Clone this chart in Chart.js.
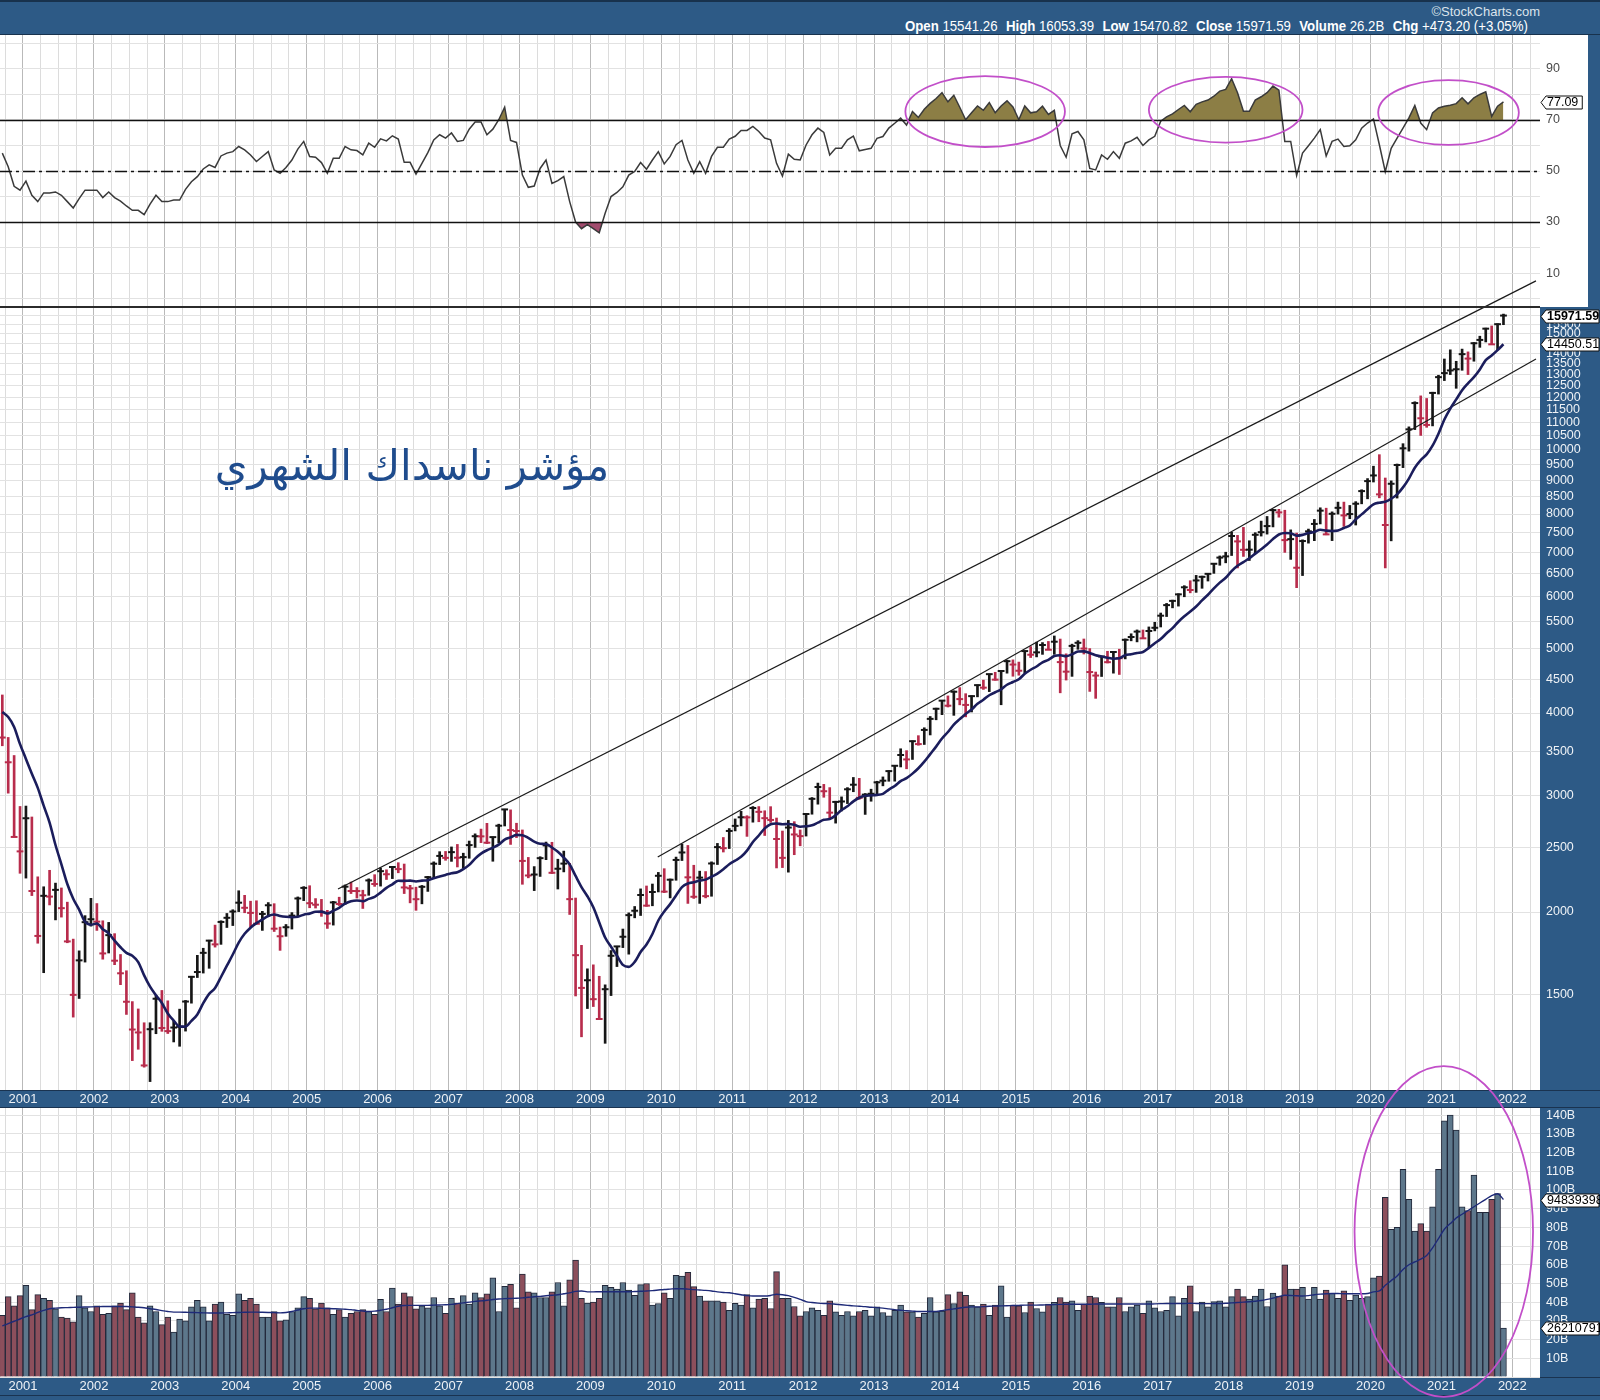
<!DOCTYPE html>
<html lang="ar">
<head>
<meta charset="utf-8">
<title>مؤشر ناسداك الشهري</title>
<script src="https://cdn.jsdelivr.net/npm/chart.js@4.4.1/dist/chart.umd.min.js"></script>
<style>
  html, body { margin: 0; padding: 0; }
  body { position: relative; width: 1600px; height: 1400px; overflow: hidden; background: #2d5a86; font-family: "Liberation Sans", Arial, sans-serif; }
  .box { position: absolute; }
  canvas { position: absolute; left: 0; }
  #quote { position: absolute; right: 72px; top: 18px; color: #fff; font-size: 14px; font-family: "Liberation Sans Narrow", "Liberation Sans", sans-serif; white-space: nowrap; transform: scaleX(0.944); transform-origin: right center; }
  #quote b { margin-left: 5px; }
  #brand { position: absolute; right: 60px; top: 4px; color: #dce4ec; font-size: 13px; font-family: "Liberation Sans Narrow", "Liberation Sans", sans-serif; }
  #title { position: absolute; left: 196px; width: 432px; top: 441px; text-align: center; direction: rtl; font-size: 42px; font-family: "DejaVu Sans", sans-serif; color: #1f4c8d; z-index: 6; white-space: nowrap; }
</style>
</head>
<body>
<div class="box" style="left:0;top:0;width:1600px;height:2px;background:#18324d"></div>
<div class="box" style="left:0;top:34px;width:1600px;height:1px;background:#18324d"></div>
<div id="brand">©StockCharts.com</div>
<div id="quote"><b>Open</b> 15541.26 <b>High</b> 16053.39 <b>Low</b> 15470.82 <b>Close</b> 15971.59 <b>Volume</b> 26.2B <b>Chg</b> +473.20 (+3.05%)</div>

<div class="box" style="left:0;top:35px;width:1588px;height:272px;background:#fff"></div>
<div class="box" style="left:0;top:307px;width:1540px;height:783px;background:#fff"></div>
<div class="box" style="left:0;top:1108px;width:1540px;height:269px;background:#fff"></div>
<div class="box" style="left:0;top:306px;width:1540px;height:2px;background:#2b2b2b;z-index:4"></div>
<div class="box" style="left:0;top:1090px;width:1600px;height:1px;background:#1a3350;z-index:1"></div>
<div class="box" style="left:0;top:1107px;width:1600px;height:1px;background:#1a3350;z-index:1"></div>
<div class="box" style="left:0;top:1377px;width:1600px;height:1px;background:#1a3350;z-index:1"></div>
<div class="box" style="left:0;top:1395px;width:1600px;height:1px;background:#1a3350;z-index:1"></div>

<canvas id="rsi" width="1600" height="272" style="top:35px;z-index:2"></canvas>
<canvas id="price" width="1600" height="858" style="top:250px;z-index:3"></canvas>
<canvas id="volume" width="1600" height="340" style="top:1060px;z-index:5"></canvas>
<div id="title">مؤشر ناسداك الشهري</div>

<script>
// Monthly bars from Sep 2000 to Nov 2021 (month index 0 = Jan 2001)
const firstYear = 2000, firstMonth = 9;
const prevClose = 4206.35; // Aug 2000 close, only used to colour the first bar

const highs = [
  4260, 3674, 3450, 2889,
  2893, 2785, 2261, 2184, 2313, 2212, 2175, 2070, 1820, 1747, 1975, 2098,
  2060, 1940, 1929, 1855, 1725, 1630, 1464, 1427, 1360, 1360, 1496, 1522,
  1468, 1368, 1426, 1470, 1599, 1720, 1763, 1813, 1911, 1940, 1990, 2016,
  2154, 2120, 2077, 2080, 2005, 2067, 2059, 1898, 1915, 1996, 2108, 2185,
  2192, 2096, 2090, 2012, 2076, 2106, 2198, 2220, 2178, 2158, 2245, 2278,
  2332, 2317, 2345, 2375, 2364, 2195, 2181, 2194, 2265, 2382, 2468, 2470,
  2509, 2531, 2455, 2561, 2626, 2670, 2724, 2597, 2716, 2861, 2855, 2725,
  2662, 2419, 2343, 2425, 2552, 2550, 2404, 2473, 2370, 2100, 1781, 1641,
  1664, 1599, 1552, 1749, 1775, 1885, 1994, 2039, 2168, 2190, 2205, 2296,
  2326, 2244, 2422, 2535, 2522, 2354, 2306, 2303, 2382, 2540, 2593, 2675,
  2766, 2840, 2797, 2888, 2888, 2846, 2887, 2775, 2652, 2752, 2740, 2662,
  2818, 2980, 3134, 3120, 3085, 2942, 2987, 3085, 3196, 3186, 3022, 3068,
  3154, 3202, 3272, 3334, 3532, 3509, 3630, 3697, 3800, 3952, 4069, 4177,
  4246, 4321, 4371, 4279, 4247, 4410, 4486, 4580, 4610, 4641, 4810, 4814,
  4777, 4964, 5042, 5120, 5113, 5133, 5232, 5176, 4916, 5085, 5147, 5177,
  5007, 4614, 4870, 4960, 4956, 4996, 5178, 5272, 5343, 5342, 5399, 5487,
  5667, 5860, 5928, 6060, 6233, 6342, 6461, 6445, 6496, 6737, 6914, 7004,
  7506, 7427, 7637, 7289, 7497, 7806, 7933, 8133, 8133, 8107, 7571, 7486,
  7313, 7592, 7851, 8176, 8165, 8061, 8340, 8340, 8243, 8353, 8706, 9052,
  9451, 9838, 9070, 8980, 9523, 10222, 10839, 11829, 12074, 11965, 12229, 12973,
  13729, 14175, 13620, 14211, 14073, 14536, 14864, 15288, 15404, 15520, 16053.39
];

const lows = [
  3569, 3026, 2597, 2289,
  2251, 2118, 1794, 1619, 2050, 1946, 1965, 1797, 1387, 1480, 1680, 1904,
  1876, 1697, 1734, 1665, 1553, 1400, 1192, 1240, 1165, 1108, 1309, 1320,
  1310, 1272, 1253, 1321, 1456, 1592, 1617, 1644, 1770, 1787, 1895, 1908,
  2003, 1995, 1897, 1918, 1876, 1969, 1869, 1750, 1838, 1885, 1973, 2081,
  2030, 2028, 1970, 1889, 1911, 2046, 2054, 2133, 2100, 2025, 2120, 2187,
  2189, 2240, 2247, 2293, 2133, 2065, 2012, 2058, 2149, 2249, 2359, 2395,
  2386, 2340, 2332, 2412, 2505, 2547, 2538, 2387, 2544, 2699, 2531, 2592,
  2203, 2253, 2155, 2264, 2400, 2287, 2167, 2300, 1983, 1493, 1295, 1429,
  1439, 1377, 1266, 1495, 1654, 1767, 1727, 1960, 1976, 2040, 2044, 2145,
  2140, 2101, 2234, 2393, 2061, 2097, 2061, 2101, 2113, 2360, 2465, 2495,
  2653, 2700, 2603, 2735, 2739, 2611, 2733, 2332, 2335, 2298, 2442, 2519,
  2606, 2812, 2912, 2983, 2778, 2726, 2844, 2918, 3041, 2962, 2810, 2942,
  3020, 3104, 3154, 3155, 3315, 3294, 3403, 3576, 3585, 3706, 3907, 3977,
  4085, 3968, 4116, 3947, 4015, 4232, 4343, 4310, 4484, 4117, 4596, 4547,
  4563, 4598, 4853, 4864, 4907, 4987, 4908, 4292, 4487, 4545, 4994, 4913,
  4313, 4210, 4543, 4762, 4596, 4575, 4830, 5144, 5125, 5184, 5034, 5325,
  5398, 5598, 5770, 5805, 5997, 6080, 6090, 6177, 6335, 6507, 6693, 6750,
  6924, 6631, 6902, 6805, 6993, 7409, 7460, 7649, 7913, 7000, 6831, 6190,
  6457, 7229, 7291, 7729, 7443, 7293, 7999, 7663, 7871, 7700, 8290, 8436,
  8944, 8465, 6631, 7287, 8458, 9404, 9960, 10736, 10520, 10822, 10875, 12150,
  12735, 13003, 12397, 13200, 13002, 13623, 14298, 14568, 14436, 14182, 15470.82
];

const closes = [
  3672.82, 3369.63, 2597.93, 2470.52,
  2772.73, 2151.83, 1840.26, 2116.24, 2110.49, 2160.54, 2027.13, 1805.43, 1498.80, 1690.20, 1930.58, 1950.40,
  1934.03, 1731.49, 1845.35, 1688.23, 1615.73, 1463.21, 1328.26, 1314.85, 1172.06, 1329.75, 1478.78, 1335.51,
  1320.91, 1337.52, 1341.17, 1464.31, 1595.91, 1622.80, 1735.02, 1810.45, 1786.94, 1932.21, 1960.26, 2003.37,
  2066.15, 2029.82, 1994.22, 1920.15, 1986.74, 2047.79, 1887.36, 1838.10, 1896.84, 1974.99, 2096.81, 2175.44,
  2062.41, 2051.72, 1999.23, 1921.65, 2068.22, 2056.96, 2184.83, 2152.09, 2151.69, 2120.30, 2232.82, 2205.32,
  2305.82, 2281.39, 2339.79, 2322.57, 2178.88, 2172.09, 2091.47, 2183.75, 2258.43, 2366.71, 2431.77, 2415.29,
  2463.93, 2416.15, 2421.64, 2525.09, 2604.52, 2603.23, 2546.27, 2596.36, 2701.50, 2859.12, 2660.96, 2652.28,
  2389.86, 2271.48, 2279.10, 2412.80, 2522.66, 2292.98, 2325.55, 2367.52, 2091.88, 1720.95, 1535.57, 1577.03,
  1476.42, 1377.84, 1528.59, 1717.30, 1774.33, 1835.04, 1978.50, 2009.06, 2122.42, 2045.11, 2144.60, 2269.15,
  2147.35, 2238.26, 2397.96, 2461.19, 2257.04, 2109.24, 2254.70, 2114.03, 2368.62, 2507.41, 2498.23, 2652.87,
  2700.08, 2782.27, 2781.07, 2873.54, 2835.30, 2773.52, 2756.38, 2579.46, 2415.40, 2684.41, 2620.34, 2605.15,
  2813.84, 2966.89, 3091.57, 3046.36, 2827.34, 2935.05, 2939.52, 3066.96, 3116.23, 2977.23, 3010.24, 3019.51,
  3142.13, 3160.19, 3267.52, 3328.79, 3455.91, 3403.25, 3626.37, 3589.87, 3771.48, 3919.71, 4059.89, 4176.59,
  4103.88, 4308.12, 4198.99, 4114.56, 4242.62, 4408.18, 4369.77, 4580.27, 4493.39, 4630.74, 4791.63, 4736.05,
  4635.24, 4963.53, 4900.88, 4941.42, 5070.03, 4986.87, 5128.28, 4776.51, 4620.16, 5053.75, 5108.67, 5007.41,
  4613.95, 4557.95, 4869.85, 4775.36, 4948.05, 4842.67, 5162.13, 5213.22, 5312.00, 5189.14, 5323.68, 5383.12,
  5614.79, 5825.44, 5911.74, 6047.61, 6198.52, 6140.42, 6348.12, 6428.66, 6495.96, 6727.67, 6873.97, 6903.39,
  7411.48, 7273.01, 7063.45, 7066.27, 7442.12, 7510.30, 7671.79, 8109.54, 8046.35, 7305.90, 7330.54, 6635.28,
  7281.74, 7532.53, 7729.32, 8095.39, 7453.15, 8006.24, 8175.42, 7962.88, 7999.34, 8292.36, 8665.47, 8972.60,
  9150.94, 8567.37, 7700.10, 8889.55, 9489.87, 10058.77, 10745.27, 11775.46, 11167.51, 10911.59, 12198.74, 12888.28,
  13070.69, 13192.35, 13246.87, 13962.68, 13748.74, 14503.95, 14672.68, 15259.24, 14448.58, 15498.39, 15971.59
];

// 10-month moving average
const ma10 = [
  4015, 3945, 3811, 3589,
  3409, 3238, 3082, 2897, 2731, 2526, 2362, 2205, 2095, 2017, 1933, 1913,
  1922, 1884, 1857, 1810, 1769, 1735, 1718, 1680, 1604, 1542, 1497, 1457,
  1405, 1370, 1342, 1342, 1369, 1400, 1456, 1504, 1535, 1595, 1659, 1725,
  1798, 1854, 1894, 1924, 1949, 1973, 1983, 1973, 1967, 1964, 1967, 1982,
  1989, 2002, 2003, 1990, 2009, 2030, 2059, 2077, 2082, 2077, 2094, 2109,
  2140, 2176, 2203, 2230, 2229, 2231, 2225, 2231, 2234, 2250, 2263, 2276,
  2289, 2298, 2322, 2357, 2409, 2451, 2480, 2502, 2529, 2574, 2594, 2617,
  2614, 2589, 2556, 2537, 2535, 2504, 2467, 2418, 2361, 2268, 2182, 2113,
  2033, 1929, 1830, 1772, 1717, 1664, 1652, 1681, 1740, 1786, 1853, 1942,
  2004, 2056, 2119, 2181, 2209, 2219, 2232, 2239, 2262, 2286, 2321, 2362,
  2392, 2424, 2477, 2553, 2611, 2677, 2716, 2723, 2715, 2718, 2710, 2692,
  2696, 2705, 2731, 2758, 2765, 2801, 2853, 2891, 2941, 2978, 2998, 3003,
  3008, 3019, 3064, 3103, 3155, 3188, 3239, 3300, 3377, 3467, 3558, 3660,
  3744, 3842, 3916, 3987, 4049, 4131, 4190, 4256, 4300, 4345, 4414, 4457,
  4500, 4585, 4651, 4704, 4774, 4815, 4879, 4893, 4876, 4908, 4955, 4959,
  4931, 4892, 4872, 4851, 4833, 4840, 4894, 4910, 4930, 4948, 5019, 5102,
  5176, 5281, 5378, 5498, 5602, 5695, 5798, 5922, 6040, 6174, 6300, 6408,
  6558, 6680, 6767, 6859, 6969, 7077, 7194, 7332, 7450, 7490, 7482, 7418,
  7440, 7487, 7515, 7574, 7552, 7542, 7555, 7620, 7687, 7853, 7991, 8135,
  8277, 8324, 8349, 8438, 8569, 8779, 9053, 9402, 9652, 9846, 10151, 10583,
  11120, 11550, 11926, 12316, 12616, 12889, 13240, 13675, 13900, 14161, 14450.51
];

// RSI(14)
const rsi14 = [
  57, 51.7, 44, 42.5,
  46, 40.5, 38, 41.4, 41.4, 41.8, 40.5, 38, 35.5, 39.2, 42.5, 42.5,
  42.5, 39.6, 41.8, 39.6, 38.2, 36.3, 34.6, 34.6, 32.9, 37, 40.5, 38,
  38, 38.6, 38.6, 42.8, 45.8, 47.8, 50.8, 52.4, 51.4, 55.9, 57, 57.6,
  59.6, 58.3, 56.3, 53.7, 55.7, 57.6, 50.4, 49.1, 51.4, 54.3, 58.6, 61.6,
  55.7, 55.4, 53.3, 49.1, 55, 55, 59.6, 58.3, 58, 56.3, 60.9, 59.3,
  62.6, 61.8, 63.8, 62.5, 53.4, 53.4, 48.8, 53, 57.2, 62.2, 64.2, 62.9,
  64.9, 61.6, 62, 66.4, 69.2, 69.2, 64.2, 66.4, 70.1, 75, 62, 61.2,
  48.4, 43.6, 44.1, 51, 54.3, 45.1, 46.2, 47.8, 38, 30, 27.4, 29,
  27.4, 25.8, 33.4, 40, 41.6, 43.8, 48.4, 49.8, 53.3, 50.7, 54.3, 57.6,
  52.8, 55.7, 60.3, 62, 54.3, 49.1, 53.7, 49.1, 55.7, 59.3, 59.3, 62.5,
  63.6, 65.9, 65.9, 67.5, 65.5, 62.9, 62.2, 53, 48, 56.6, 54.6, 54.3,
  60.2, 64.2, 66.8, 65.1, 56.3, 58.9, 58.9, 62.2, 63.7, 57.9, 58.4, 58.9,
  62.8, 63.5, 66.8, 68.7, 70.7, 68, 73.3, 71, 74.2, 76.5, 78.4, 80.7,
  77.1, 79.7, 75, 70.1, 72.8, 75.5, 73.8, 76.8, 72.8, 75.5, 77.5, 75.1,
  70.1, 75.5, 72.8, 73.2, 75.4, 72.2, 73.8, 60, 55.4, 64.6, 65.5, 62.2,
  51, 50.4, 56.3, 54.6, 57.6, 55, 60.9, 61.8, 63.2, 60, 62.2, 63.6,
  69.5, 71.2, 72.4, 74.1, 75.7, 73.2, 76.1, 77.1, 77.8, 79.3, 81.3, 82,
  86.2, 80.7, 73.4, 73.4, 77.8, 79.1, 80.7, 83.3, 81.7, 61.6, 61.6, 48.2,
  57, 59.9, 62.9, 66.2, 55.9, 61.6, 62.5, 59.6, 59.9, 62.2, 66.8, 68.8,
  70.4, 60.3, 49.7, 58.9, 62.9, 66.8, 70.8, 75.7, 68.8, 66.2, 72.8, 74.7,
  75.4, 75.8, 76.4, 78.7, 76.3, 78.7, 80, 81, 71.4, 75.4, 77.09
];

// volume in billions of shares
const volumes = [
  33, 43, 38, 43.5,
  49, 36, 44, 42, 41, 36.5, 32, 31.5, 29.5, 43.5, 37, 35,
  38, 33.5, 34, 38, 39.5, 36, 45, 32, 29, 38, 35, 28,
  32, 24, 31, 30, 37.5, 41, 37.5, 30, 39, 40, 33.5, 33,
  44.5, 41, 42, 39, 32, 32, 35, 30, 30.5, 35, 37, 43,
  42, 36.5, 39.5, 37, 33.5, 36, 32, 34, 35, 36, 35, 33.5,
  41.5, 35, 47.5, 39, 45, 43, 36.5, 38, 37, 42.5, 38, 34,
  42, 39.5, 43.5, 39, 45, 42.5, 44.5, 53, 35, 48.5, 49.5, 37,
  55, 45.5, 45, 42.5, 42.5, 45.5, 50.5, 38, 52, 62.5, 42, 39.5,
  40, 42, 49, 48, 47, 50.5, 46.5, 43.7, 49.4, 50, 38.4, 39.3,
  45, 42, 54.4, 54, 56, 48.3, 43.3, 40.7, 40.7, 40.7, 40, 35.7,
  39.4, 38.4, 44, 37, 41.6, 42, 36.6, 56.3, 42, 42, 37.7, 32.7,
  35, 37, 35.7, 33, 40.7, 34.8, 33, 35, 32.7, 35, 35.7, 32.7,
  37.5, 34.5, 32.7, 35.7, 38.4, 34.8, 34.8, 32, 34, 42.5, 34.8, 35.3,
  44, 39.3, 45.5, 43.7, 38.4, 37.5, 39, 33, 38.4, 48.7, 32, 38.4,
  38, 34.5, 40, 36.6, 34.8, 39, 39.9, 42.5, 40, 40.7, 35.7, 39,
  43.3, 42.5, 39.9, 37.5, 37.5, 42.5, 35, 37.5, 38.4, 34, 40.7, 37,
  35, 35.7, 43, 32.7, 42, 48.7, 35, 40, 37.5, 40.3, 40.7, 37.5,
  43, 47, 43, 41.6, 43.3, 47, 37.7, 44.8, 43.3, 60, 47, 47,
  48, 41.7, 48, 41.7, 46.5, 44.7, 42, 46, 41, 43.8, 42, 43,
  53, 54, 96, 79, 80, 111, 95, 78, 82, 78, 91, 111,
  137, 140, 132, 91, 89, 108, 88, 88, 95, 98, 26.21
];

// 20-month volume average
const volMa20 = [
  27.3, 28.5, 29.8, 31,
  32.3, 33.2, 34.5, 35.6, 36.5, 36.8, 37, 37.1, 37.2, 37.3, 37.4, 37.5,
  37.6, 37.7, 37.7, 37.7, 37.7, 37.7, 37.5, 37.3, 37, 36.5, 36.1, 35.5,
  35, 34.7, 34.7, 34.6, 34.5, 34.4, 34.3, 34.2, 34.2, 34.2, 34.3, 34.4,
  34.5, 34.6, 34.7, 34.7, 34.6, 34.5, 34.4, 34.3, 34.5, 35, 35.8, 36.5,
  36.8, 36.8, 36.7, 36.6, 36.5, 36.4, 36.2, 36, 35.6, 35.3, 35, 35.2,
  35.7, 36.2, 37, 37.8, 38.2, 38.3, 38.3, 38.3, 38.3, 38.4, 38.5, 38.6,
  38.8, 39.2, 39.6, 40, 40.4, 40.7, 41, 41.4, 41.7, 41.9, 42, 42.1,
  42.3, 42.6, 42.9, 43.1, 43.4, 43.7, 44, 44.5, 45, 45.8, 46, 45.5,
  45.5, 45.6, 45.6, 45.6, 45.6, 45.6, 45.6, 45.7, 45.8, 46, 46.2, 46.5,
  46.8, 47, 47.2, 47.2, 47, 46.7, 46.5, 46.3, 46, 45.5, 45.2, 45,
  44.5, 44, 43.5, 43.3, 43.3, 43.3, 43.6, 44.2, 44, 43.5, 42.6, 41.5,
  40.3, 39.8, 39.5, 39.3, 39.2, 38.9, 38.6, 38.3, 38, 37.8, 37.6, 37.3,
  37.1, 36.8, 36.4, 36, 35.7, 35.4, 35.2, 35, 35, 35, 35.1, 35.5,
  36, 36.4, 36.9, 37.3, 37.5, 37.5, 37.6, 37.8, 37.9, 38, 38.1, 38.2,
  38.3, 38.4, 38.4, 38.4, 38.5, 38.6, 38.7, 38.8, 38.9, 38.9, 38.9, 38.9,
  38.9, 39, 39, 39, 39, 39, 39, 39, 39, 39, 39, 39.1,
  39.2, 39.3, 39.3, 39.3, 39.3, 39.4, 39.3, 39.2, 39.2, 39.3, 39.3, 39.4,
  39.6, 39.8, 40, 40.2, 40.5, 40.9, 41.5, 42.2, 43, 43.7, 43.6, 43.4,
  43.3, 43.5, 44, 44.3, 44.5, 44.6, 44.6, 44.5, 44.5, 44.5, 44.5, 44.6,
  45.5, 46, 49, 51.5, 54, 57.5, 60, 61.5, 63, 65, 69, 74,
  79, 82, 85, 87, 89, 91, 93, 95, 97, 98, 94.84
];

// axis ticks and reference levels
const priceTicks = [1500, 2000, 2500, 3000, 3500, 4000, 4500, 5000, 5500, 6000, 6500, 7000, 7500, 8000,
  8500, 9000, 9500, 10000, 10500, 11000, 11500, 12000, 12500, 13000, 13500, 14000, 14500, 15000, 15500, 16000];
const rsiTicks = [0, 10, 20, 30, 40, 50, 60, 70, 80, 90, 100];
const volTicks = [0, 10, 20, 30, 40, 50, 60, 70, 80, 90, 100, 110, 120, 130, 140];
const rsiLevels = [70, 50, 30];

// hand drawn channel lines (month index, price)
const trendUpper = [{ x: 52.8, y: 2167 }, { x: 255.5, y: 18024 }];
const trendLower = [{ x: 106.9, y: 2423 }, { x: 255.5, y: 13732 }];

// magenta circles (centre month, centre value, half width in months, half height in units)
const rsiCircles = [
  { cx: 162.3, cy: 73.3, rx: 13.5, ry: 13.9 },
  { cx: 203, cy: 74, rx: 13, ry: 12.9 },
  { cx: 240.7, cy: 72.9, rx: 11.9, ry: 12.7 }
];
const volCircles = [{ cx: 239.9, cy: 77.8, rx: 15.1, ry: 88.4 }];

/******************************************* helpers *******************************************/
const xMin = -4.39, xMax = 256.18;
const firstIndex = (firstYear - 2001) * 12 + (firstMonth - 1);
const monthIdx = closes.map((_, i) => firstIndex + i);
const quarterTicks = [];
for (let v = -3.5; v <= xMax; v += 3) quarterTicks.push(v);

const isYear = v => Math.abs(((v + 0.5) % 12 + 12) % 12) < 1e-6;
const isUp = closes.map((c, i) => c >= (i ? closes[i - 1] : prevClose));
const barColors = isUp.map(u => (u ? '#161616' : '#b82c4c'));
const volColors = isUp.map(u => (u ? '#5d778b' : '#8c4f5c'));
const points = arr => arr.map((v, i) => ({ x: monthIdx[i], y: v }));

Chart.defaults.font.family = '"Liberation Sans", Arial, sans-serif';
Chart.defaults.font.size = 12.5;

function xAxis(showLabels) {
  return {
    type: 'linear', min: xMin, max: xMax, offset: false,
    afterBuildTicks: s => { s.ticks = quarterTicks.map(v => ({ value: v })); },
    afterFit: s => { s.height = showLabels ? 18 : 0; s.paddingLeft = 0; s.paddingRight = 0; },
    grid: { offset: false, drawTicks: false, color: c => (c.tick && isYear(c.tick.value) ? '#b9b9b9' : '#dcdcdc') },
    border: { display: false },
    ticks: {
      display: showLabels, autoSkip: false, maxRotation: 0, padding: 2, color: '#eef2f6',
      font: { size: 13 },
      callback: v => (isYear(v) ? String(2001 + Math.round((v + 0.5) / 12)) : '')
    }
  };
}

function yAxis(extra, tickValues, labelColor, fmt) {
  return Object.assign({
    position: 'right',
    afterBuildTicks: s => { s.ticks = tickValues.map(v => ({ value: v })); },
    afterFit: s => { s.width = 60; s.paddingTop = 0; s.paddingBottom = 0; },
    grid: { drawTicks: false, color: '#e2e2e2' },
    border: { display: false },
    ticks: { padding: 6, color: labelColor, callback: fmt }
  }, extra);
}

function circlePlugin(list) {
  return {
    id: 'circles',
    afterDraw(chart) {
      const { ctx } = chart, xs = chart.scales.x, ys = chart.scales.y;
      ctx.save();
      ctx.strokeStyle = '#c24fc9';
      ctx.lineWidth = 1.8;
      list.forEach(e => {
        const cx = xs.getPixelForValue(e.cx), cy = ys.getPixelForValue(e.cy);
        const rx = Math.abs(xs.getPixelForValue(e.cx + e.rx) - cx);
        const ry = Math.abs(ys.getPixelForValue(e.cy + e.ry) - cy);
        ctx.beginPath();
        ctx.ellipse(cx, cy, rx, ry, 0, 0, Math.PI * 2);
        ctx.stroke();
      });
      ctx.restore();
    }
  };
}

// white flag labels on the right axis
function flagPlugin(list) {
  return {
    id: 'flags',
    afterDraw(chart) {
      const { ctx } = chart, ys = chart.scales.y, x0 = chart.chartArea.right;
      list.forEach(f => {
        const py = Math.round(ys.getPixelForValue(f.value)) + 0.5;
        ctx.save();
        ctx.font = (f.bold ? 'bold ' : '') + '12.5px "Liberation Sans", Arial, sans-serif';
        const w = Math.min(ctx.measureText(f.text).width + 5, chart.width - x0 - 7);
        ctx.beginPath();
        ctx.moveTo(x0 + 1, py);
        ctx.lineTo(x0 + 6, py - 6.5);
        ctx.lineTo(x0 + 6 + w, py - 6.5);
        ctx.lineTo(x0 + 6 + w, py + 6.5);
        ctx.lineTo(x0 + 6, py + 6.5);
        ctx.closePath();
        ctx.fillStyle = '#fff';
        ctx.fill();
        ctx.strokeStyle = '#111';
        ctx.lineWidth = 1;
        ctx.stroke();
        ctx.fillStyle = '#000';
        ctx.textBaseline = 'middle';
        ctx.fillText(f.text, x0 + 7, py + 0.5);
        ctx.restore();
      });
    }
  };
}

const levelPlugin = {
  id: 'levels',
  afterDatasetsDraw(chart) {
    const { ctx, chartArea: a } = chart, ys = chart.scales.y;
    ctx.save();
    ctx.strokeStyle = '#111';
    rsiLevels.forEach(v => {
      const py = Math.round(ys.getPixelForValue(v)) + 0.5;
      ctx.lineWidth = 1.5;
      ctx.setLineDash(v === 50 ? [12, 4, 3, 4] : []);
      ctx.beginPath();
      ctx.moveTo(a.left, py);
      ctx.lineTo(a.right, py);
      ctx.stroke();
    });
    ctx.restore();
  }
};

const common = {
  responsive: false,
  animation: false,
  devicePixelRatio: 1,
  events: [],
  plugins: { legend: { display: false }, tooltip: { enabled: false } }
};

/******************************************* RSI panel *******************************************/
new Chart(document.getElementById('rsi'), {
  type: 'line',
  data: {
    datasets: [
      {
        data: points(rsi14), borderColor: '#3a3a3a', borderWidth: 1.5, pointRadius: 0,
        fill: { target: { value: 70 }, above: '#8c7e45', below: 'rgba(0,0,0,0)' }, order: 0
      },
      {
        data: points(rsi14), borderColor: 'rgba(0,0,0,0)', borderWidth: 1, pointRadius: 0,
        fill: { target: { value: 30 }, above: 'rgba(0,0,0,0)', below: '#a24c6e' }, order: 1
      }
    ]
  },
  options: Object.assign({}, common, {
    layout: { padding: 0, autoPadding: false },
    scales: {
      x: xAxis(false),
      y: yAxis({ type: 'linear', min: -3.3, max: 103.3 }, rsiTicks, '#4a4a4a',
        v => (v % 20 === 10 ? String(v) : ''))
    }
  }),
  plugins: [levelPlugin, circlePlugin(rsiCircles), flagPlugin([{ value: 77.09, text: '77.09' }])]
});

/******************************************* price panel *******************************************/
new Chart(document.getElementById('price'), {
  type: 'bar',
  data: {
    datasets: [
      {
        type: 'line', data: points(ma10), borderColor: '#1b1d5c', borderWidth: 2.6,
        pointRadius: 0, cubicInterpolationMode: 'monotone', order: 0
      },
      {
        type: 'bar', data: lows.map((l, i) => ({ x: monthIdx[i], y: [l, highs[i]] })),
        backgroundColor: barColors, barThickness: 2, grouped: false, order: 2
      },
      {
        type: 'scatter', data: points(closes), pointStyle: 'line', pointRadius: 3.4,
        pointBorderWidth: 2, pointBorderColor: barColors, order: 1
      },
      { type: 'line', data: trendUpper, borderColor: '#1a1a1a', borderWidth: 1.2, pointRadius: 0, clip: false, order: 0 },
      { type: 'line', data: trendLower, borderColor: '#1a1a1a', borderWidth: 1.2, pointRadius: 0, clip: false, order: 0 }
    ]
  },
  options: Object.assign({}, common, {
    layout: { padding: { top: 57, left: 0, right: 0, bottom: 0 }, autoPadding: false },
    scales: {
      x: xAxis(true),
      y: yAxis({ type: 'logarithmic', min: 1076, max: 16455 }, priceTicks, '#eef2f6', v => String(v))
    }
  }),
  plugins: [flagPlugin([
    { value: 15971.59, text: '15971.59', bold: true },
    { value: 14450.51, text: '14450.51' }
  ])]
});

/******************************************* volume panel *******************************************/
new Chart(document.getElementById('volume'), {
  type: 'bar',
  data: {
    datasets: [
      {
        type: 'line', data: points(volMa20), borderColor: '#1e2a78', borderWidth: 1.4,
        pointRadius: 0, cubicInterpolationMode: 'monotone', order: 0
      },
      {
        type: 'bar', data: points(volumes), backgroundColor: volColors, borderColor: '#22283a',
        borderWidth: 1, barThickness: 5.91, grouped: false, order: 1
      }
    ]
  },
  options: Object.assign({}, common, {
    layout: { padding: { top: 48, left: 0, right: 0, bottom: 5 }, autoPadding: false },
    scales: {
      x: xAxis(true),
      y: yAxis({ type: 'linear', min: 0, max: 143.8 }, volTicks, '#eef2f6', v => (v === 0 ? '' : v + 'B'))
    }
  }),
  plugins: [circlePlugin(volCircles), flagPlugin([
    { value: 94.84, text: '94839398' },
    { value: 26.21, text: '26210791' }
  ])]
});
</script>
</body>
</html>
